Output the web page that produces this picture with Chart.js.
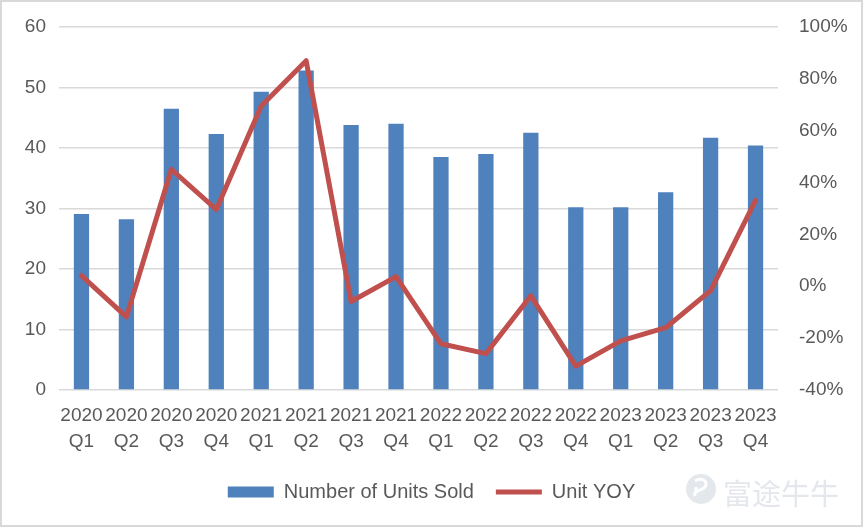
<!DOCTYPE html>
<html>
<head>
<meta charset="utf-8">
<script src="https://cdn.jsdelivr.net/npm/chart.js@4"></script>
<style>
  html, body { margin: 0; padding: 0; background: #fff; }
  #wrap { position: relative; width: 863px; height: 527px; }
  #frame { position: absolute; left: 0; top: 0; width: 863px; height: 527px; box-sizing: border-box; border: 2px solid #d9d9d9; pointer-events: none; }
  #mark { position: absolute; left: 723px; top: 471px; font-family: 'Noto Sans CJK SC', sans-serif; font-size: 29px; color: #e4e7eb; }
  #logo { position: absolute; left: 683px; top: 472px; }
</style>
</head>
<body>
<div id="wrap">
  <canvas id="chart" width="863" height="527"></canvas>
  <div id="frame"></div>
  <svg id="logo" width="36" height="34" viewBox="0 0 36 34">
    <circle cx="18" cy="17" r="15" fill="#e4e7eb"/>
    <path d="M12 9 C18 5 26 9 22 15 C19 19 10 18 12 24" stroke="#fff" stroke-width="3" fill="none"/>
    <circle cx="13" cy="17" r="2" fill="#fff"/>
  </svg>
  <div id="mark">富途牛牛</div>
</div>
<script>
/* ── Data ── */
const years    = ['2020','2020','2020','2020','2021','2021','2021','2021','2022','2022','2022','2022','2023','2023','2023','2023'];
const quarters = ['Q1','Q2','Q3','Q4','Q1','Q2','Q3','Q4','Q1','Q2','Q3','Q4','Q1','Q2','Q3','Q4'];
const unitsSold = [29.1, 28.2, 46.5, 42.3, 49.3, 52.8, 43.8, 44.0, 38.5, 39.0, 42.5, 30.2, 30.2, 32.7, 41.7, 40.4];
const unitYoy   = [4.1, -11.8, 45.1, 29.6, 69.5, 87.0, -5.9, 3.7, -22.2, -26.0, -3.7, -30.8, -21.1, -16.0, -1.7, 33.1];

const labels = years.map((y, i) => [y, quarters[i]]);

const TEXT = '#595959';
const GRID = '#d9d9d9';
const FONT = { family: 'Liberation Sans', size: 19 };

// keep the plot box where the reference has it: no extra room for label overflow
const noOverflow = s => { s.paddingTop = 0; s.paddingBottom = 0; };

new Chart(document.getElementById('chart'), {
  type: 'bar',
  data: {
    labels,
    datasets: [
      {
        label: 'Number of Units Sold',
        data: unitsSold,
        backgroundColor: '#4f81bd',
        borderWidth: 0,
        barPercentage: 1,
        categoryPercentage: 0.34,
        yAxisID: 'y',
        order: 2,
      },
      {
        type: 'line',
        label: 'Unit YOY',
        data: unitYoy,
        borderColor: '#c0504d',
        backgroundColor: '#c0504d',
        borderWidth: 5,
        borderCapStyle: 'round',
        borderJoinStyle: 'round',
        pointRadius: 0,
        tension: 0,
        yAxisID: 'y1',
        order: 1,
      },
    ],
  },
  options: {
    responsive: false,
    animation: false,
    layout: { padding: { top: 27, left: 0, right: 0, bottom: 15 } },
    scales: {
      x: {
        grid: { display: false },
        border: { display: false },
        ticks: { color: TEXT, font: { ...FONT, lineHeight: 1.37 }, maxRotation: 0, autoSkip: false, padding: 5 },
      },
      y: {
        position: 'left',
        min: 0, max: 60,
        ticks: { stepSize: 10, color: TEXT, font: FONT, padding: 13 },
        grid: { color: GRID, lineWidth: 1.5, drawTicks: false },
        border: { display: false },
        afterFit: s => { s.width = 59; noOverflow(s); },
      },
      y1: {
        position: 'right',
        min: -40, max: 100,
        ticks: { stepSize: 20, color: TEXT, font: FONT, padding: 21, callback: v => v + '%' },
        grid: { display: false, drawTicks: false },
        border: { display: false },
        afterFit: s => { s.width = 85; noOverflow(s); },
      },
    },
    plugins: {
      tooltip: { enabled: false },
      legend: {
        position: 'bottom',
        labels: {
          color: TEXT,
          font: { ...FONT, size: 20 },
          usePointStyle: true,
          pointStyleWidth: 46,
          boxHeight: 11,
          padding: 22,
          sort: (a, b) => a.datasetIndex - b.datasetIndex,
          generateLabels: chart => {
            const items = Chart.defaults.plugins.legend.labels.generateLabels(chart);
            items.forEach(it => {
              it.pointStyle = it.datasetIndex === 0 ? 'rect' : 'line';
            });
            return items;
          },
        },
      },
    },
  },
});
</script>
</body>
</html>
